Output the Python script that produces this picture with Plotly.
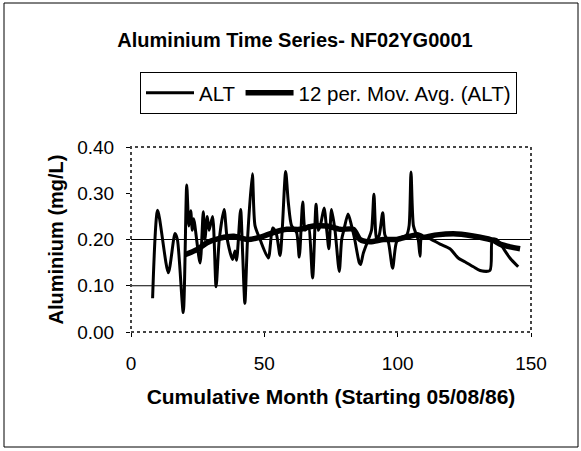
import plotly.graph_objects as go

# ALT measurements (cumulative month, mg/L)
alt_month = [8.1, 10.0, 14.0, 16.5, 17.4, 19.6, 20.9, 21.7, 22.4, 23.0, 23.5, 25.9, 27.1, 27.7,
             28.6, 29.3, 30.6, 31.9, 33.1, 34.9, 36.1, 38.1, 39.0, 39.6, 41.1, 41.9, 42.7, 43.7,
             45.5, 46.5, 48.4, 51.5, 53.1, 54.4, 55.9, 56.7, 58.0, 59.0, 60.2, 62.1, 63.1, 64.4,
             65.3, 66.5, 68.1, 69.4, 70.2, 71.1, 72.4, 73.4, 74.2, 75.2, 76.5, 78.1, 79.0, 79.8,
             81.4, 82.7, 83.9, 85.6, 86.1, 87.1, 89.0, 90.2, 91.1, 92.1, 93.1, 94.4, 95.2, 96.5,
             98.1, 99.6, 101.5, 103.4, 104.3, 105.0, 105.9, 106.9, 107.7, 108.4, 109.0, 110.9,
             115.9, 119.6, 122.7, 125.2, 128.4, 130.9, 134.6, 135.5, 137.1, 139.0, 142.1, 145.2]
alt_value = [0.073, 0.263, 0.128, 0.213, 0.200, 0.042, 0.318, 0.229, 0.262, 0.220, 0.245, 0.149,
             0.260, 0.200, 0.250, 0.220, 0.250, 0.098, 0.200, 0.265, 0.200, 0.157, 0.175, 0.155,
             0.265, 0.165, 0.062, 0.200, 0.342, 0.230, 0.200, 0.160, 0.225, 0.215, 0.165, 0.220,
             0.347, 0.280, 0.230, 0.215, 0.162, 0.281, 0.220, 0.230, 0.117, 0.276, 0.220, 0.232,
             0.268, 0.220, 0.180, 0.265, 0.220, 0.131, 0.200, 0.220, 0.255, 0.230, 0.200, 0.150,
             0.146, 0.170, 0.200, 0.220, 0.298, 0.200, 0.210, 0.258, 0.210, 0.195, 0.138, 0.195,
             0.205, 0.210, 0.230, 0.346, 0.230, 0.212, 0.200, 0.164, 0.205, 0.205, 0.190, 0.180,
             0.160, 0.152, 0.141, 0.133, 0.133, 0.200, 0.200, 0.186, 0.160, 0.141]

# 12 period moving average of ALT
ma_month = [20.2, 24.7, 28.5, 33.5, 38.6, 43.6, 48.5, 53.4, 58.4, 63.4, 68.4, 73.4, 78.4, 83.4,
            85.9, 89.7, 94.7, 99.6, 104.6, 107.7, 109.6, 114.7, 122.2, 130.9, 135.9, 138.4,
            142.1, 145.9]
ma_value = [0.167, 0.178, 0.193, 0.203, 0.207, 0.200, 0.205, 0.215, 0.222, 0.222, 0.229, 0.229,
            0.222, 0.222, 0.200, 0.195, 0.200, 0.200, 0.207, 0.210, 0.205, 0.210, 0.212, 0.205,
            0.198, 0.190, 0.184, 0.180]

gridlines = [0.1, 0.2]

FONT = "Liberation Sans, Arial, sans-serif"

fig = go.Figure()
fig.add_trace(go.Scatter(x=alt_month, y=alt_value, mode="lines", name="ALT",
                         line=dict(color="black", width=3, shape="spline", smoothing=0.7)))
fig.add_trace(go.Scatter(x=ma_month, y=ma_value, mode="lines", name="12 per. Mov. Avg. (ALT)",
                         line=dict(color="black", width=5.5, shape="spline", smoothing=0.7)))

shapes = []
for g in gridlines:
    shapes.append(dict(type="line", xref="paper", x0=0, x1=1, yref="y", y0=g, y1=g,
                       line=dict(color="black", width=1), layer="below"))
# plot area dotted border
shapes.append(dict(type="rect", xref="paper", yref="paper", x0=0, x1=1, y0=0, y1=1,
                   line=dict(color="#444444", width=2, dash="dot")))
# outer chart frame
shapes.append(dict(type="rect", xref="paper", yref="paper",
                   x0=(4 - 131) / 400, x1=(578 - 131) / 400,
                   y0=(332 - 447) / 185, y1=(332 - 3) / 185,
                   line=dict(color="black", width=1)))

fig.update_layout(
    width=581, height=451,
    margin=dict(l=131, r=50, t=147, b=119),
    paper_bgcolor="white", plot_bgcolor="white",
    font=dict(family=FONT, size=19, color="black"),
    title=dict(text="<b>Aluminium Time Series- NF02YG0001</b>", x=295 / 581, xanchor="center",
               y=1 - 40 / 451, yanchor="middle", font=dict(size=20)),
    showlegend=True,
    legend=dict(orientation="h", x=(140 - 131) / 400, y=(332 - 72) / 185,
                xanchor="left", yanchor="top", bordercolor="black", borderwidth=1,
                bgcolor="white", font=dict(size=20.5), itemwidth=48, tracegroupgap=0),
    shapes=shapes,
)
fig.update_xaxes(range=[0, 150], dtick=50, tick0=0, showgrid=False, zeroline=False,
                 ticks="outside", ticklen=4, tickcolor="black", showline=False,
                 ticklabelstandoff=10,
                 title=dict(text="<b>Cumulative Month (Starting 05/08/86)</b>", standoff=16,
                            font=dict(size=21)))
fig.update_yaxes(range=[0, 0.4], dtick=0.1, tick0=0, tickformat=".2f", showgrid=False,
                 zeroline=False, ticks="outside", ticklen=4, tickcolor="black", showline=False,
                 ticklabelstandoff=8,
                 title=dict(text="<b>Aluminium (mg/L)</b>", standoff=8, font=dict(size=20)))

fig.write_html("out.html", config={"displayModeBar": False},
               post_script="document.body.style.margin='0';")
